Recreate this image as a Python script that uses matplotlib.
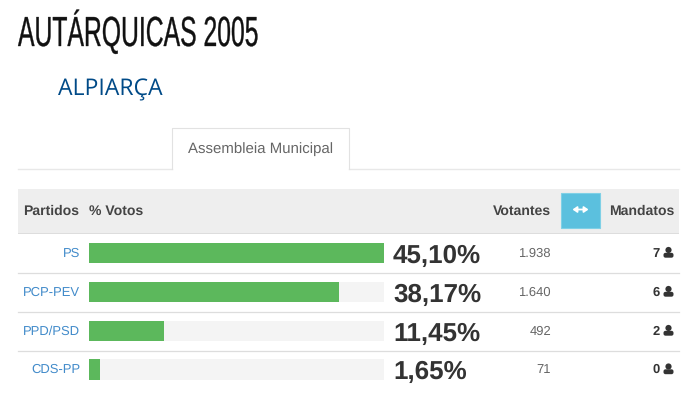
import matplotlib
matplotlib.use("Agg")
import matplotlib.pyplot as plt
import matplotlib.patheffects as pe
from matplotlib.patches import Rectangle, Circle, FancyBboxPatch
from matplotlib.transforms import Affine2D

# dados
partidos = ["PS", "PCP-PEV", "PPD/PSD", "CDS-PP"]
votos = [45.10, 38.17, 11.45, 1.65]
votos_txt = ["45,10%", "38,17%", "11,45%", "1,65%"]
votantes = ["1.938", "1.640", "492", "71"]
mandatos = ["7", "6", "2", "0"]

SANS = ["Liberation Sans", "DejaVu Sans"]
GREEN = "#5cb85c"
TRACK = "#f4f4f4"
LINE = "#dddddd"
LINK = "#428bca"
DARK = "#333333"
W, H = 700, 419

plt.rcParams["text.hinting"] = "no_hinting"
plt.rcParams["text.hinting_factor"] = 1


class Squeeze(pe.AbstractPathEffect):
    # aperta o texto na horizontal (nao ha fonte condensada instalada)
    def __init__(self, x0, sx):
        super().__init__()
        self.x0 = x0
        self.sx = sx

    def draw_path(self, renderer, gc, tpath, affine, rgbFace=None):
        squeeze = Affine2D().translate(-self.x0, 0).scale(self.sx, 1).translate(self.x0, 0)
        gc.set_linewidth(0.25)
        gc.set_foreground(rgbFace)
        renderer.draw_path(gc, tpath, affine + squeeze, rgbFace)


fig = plt.figure(figsize=(W / 100, H / 100), dpi=100, facecolor="white")

# camada em pixeis para a parte "pagina"
page = fig.add_axes([0, 0, 1, 1])
page.set_xlim(0, W)
page.set_ylim(H, 0)
page.axis("off")

title = page.text(18, 46, "AUTÁRQUICAS 2005", family=SANS, fontsize=30.3,
                  color="#111111", va="baseline", ha="left")
title_w = title.get_window_extent(fig.canvas.get_renderer()).width
title.set_path_effects([Squeeze(18, 240 / title_w)])

page.text(58, 95, "ALPIARÇA", family=["Open Sans", "DejaVu Sans"], fontsize=16.6,
          color="#004a87", va="baseline", ha="left")

# separador e tab
page.plot([18, 172], [169, 169], color="#e8e8e8", lw=1)
page.plot([349, 679], [169, 169], color="#e8e8e8", lw=1)
page.plot([172, 172, 349, 349], [169, 128, 128, 169], color="#e2e2e2", lw=0.8)
page.text(260.5, 149, "Assembleia Municipal", family=SANS, fontsize=10.75,
          color="#666666", ha="center", va="center")

# cabecalho da tabela
page.add_patch(Rectangle((18, 189), 661, 44, fc="#eeeeee", ec="none"))
page.add_patch(Rectangle((18, 232.5), 661, 1.6, fc="#dddddd", ec="none"))
for txt, x, ha in [("Partidos", 23, "left"), ("% Votos", 89, "left"),
                   ("Votantes", 551, "right"), ("Mandatos", 674, "right")]:
    page.text(x, 211, txt, family=SANS, fontsize=10.2, fontweight="bold",
              color="#444444", ha=ha, va="center")

# botao azul
page.add_patch(Rectangle((561, 193), 39, 35, fc="#5bc0de", ec="#7fd0e6", lw=0.8))
page.annotate("", xy=(588.5, 209.5), xytext=(572.5, 209.5),
              arrowprops=dict(arrowstyle="<|-|>,head_length=0.5,head_width=0.35", color="white",
                              lw=1.3, mutation_scale=5, shrinkA=0, shrinkB=0))

# linhas da tabela
row_y = [253, 292, 331, 369.5]
for y in row_y[:-1]:
    page.plot([18, 679], [y + 19.5, y + 19.5], color=LINE, lw=0.9)


def pessoa(ax, x, y):
    # icone de utilizador
    ax.add_patch(Circle((x, y - 3), 3.1, fc=DARK, ec="none"))
    ax.add_patch(FancyBboxPatch((x - 5, y - 0.2), 10, 4.9,
                                boxstyle="round,pad=0,rounding_size=2",
                                fc=DARK, ec="none"))


for i, y in enumerate(row_y):
    page.text(80, y + 0.5, partidos[i], family=SANS, fontsize=9.4, color=LINK,
              ha="right", va="center")
    page.text(393, y + 3, votos_txt[i], family=SANS, fontsize=19,
              fontweight="bold", color=DARK, ha="left", va="center")
    page.text(551, y + 0.5, votantes[i], family=SANS, fontsize=9.5, color="#666666",
              ha="right", va="center")
    page.text(660, y + 0.5, mandatos[i], family=SANS, fontsize=9, fontweight="bold",
              color=DARK, ha="right", va="center")
    pessoa(page, 668.5, y)

# barras: a pista vai de 0 ao valor maximo
top, bottom = 233.5, 389
bars = fig.add_axes([89 / W, 1 - bottom / H, 295 / W, (bottom - top) / H])
bars.patch.set_alpha(0)
bars.set_xlim(0, max(votos))
bars.set_ylim(bottom, top)
bars.axis("off")
bars.barh(row_y, [max(votos)] * len(votos), height=20.5, color=TRACK, edgecolor="none")
bars.barh(row_y, votos, height=20.5, color=GREEN, edgecolor="none")

fig.savefig("out.png", dpi=100)
